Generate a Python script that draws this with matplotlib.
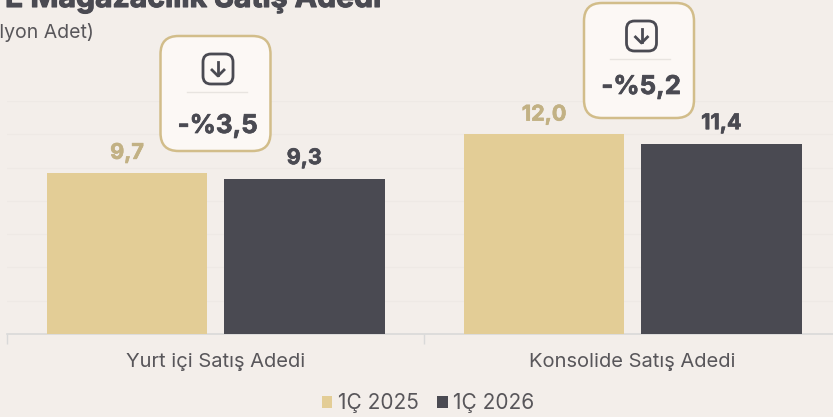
import numpy as np
import matplotlib
matplotlib.use('Agg')
import matplotlib.pyplot as plt
import matplotlib.patheffects as pe
from matplotlib.patches import FancyBboxPatch
from matplotlib.transforms import Affine2D

categories = ['Yurt içi Satış Adedi', 'Konsolide Satış Adedi']
series_names = ['1Ç 2025', '1Ç 2026']
values_2025 = [9.7, 12.0]
values_2026 = [9.3, 11.4]
labels_2025 = ['9,7', '12,0']
labels_2026 = ['9,3', '11,4']
changes = ['-%3,5', '-%5,2']

W, H = 833, 417
BG = '#F3EEEA'
GOLD = '#E3CD96'
GOLD_TXT = '#C2B184'
DARK = '#4A4A52'
GREY = '#58565A'

plt.rcParams['font.family'] = ['Inter', 'DejaVu Sans']


def heavy(color, lw=0.5):
    # Inter only comes out semi bold here, thicken it a bit
    return [pe.withStroke(linewidth=lw, foreground=color)]


fig = plt.figure(figsize=(W / 100, H / 100), dpi=100, facecolor=BG)
# axes runs past the right edge, same as the source crop
ax = fig.add_axes([7.2 / W, 1 - 334 / H, 834 / W, 233 / H], facecolor=BG)

x = np.arange(len(categories))
bar_w = 0.385
off = 0.2125
b1 = ax.bar(x - off, values_2025, bar_w, color=GOLD, label=series_names[0], zorder=3)
b2 = ax.bar(x + off, values_2026, bar_w, color=DARK, label=series_names[1], zorder=3)

ax.set_xlim(-0.5, 1.5)
ax.set_ylim(0, 14)
ax.set_yticks(np.arange(2, 15, 2))
ax.tick_params(axis='y', length=0, labelleft=False)
ax.grid(axis='y', color='#EEE9E5', lw=1, zorder=0)

ax.set_xticks([-0.5, 0.5, 1.5])
ax.set_xticklabels([])
ax.tick_params(axis='x', length=7, width=1, color='#D9D9D9')
ax.set_xticks(x, minor=True)
ax.set_xticklabels(categories, minor=True, fontsize=14.5, color=GREY)
ax.tick_params(axis='x', which='minor', length=0, pad=14)
for s in ['top', 'left', 'right']:
    ax.spines[s].set_visible(False)
ax.spines['bottom'].set_color('#D9D9D9')
ax.spines['bottom'].set_linewidth(1.2)

for t in ax.bar_label(b1, labels_2025, padding=7, fontsize=15.5, fontweight='bold', color=GOLD_TXT):
    t.set_path_effects(heavy(GOLD_TXT))
for t in ax.bar_label(b2, labels_2026, padding=8, fontsize=15.5, fontweight='bold', color=DARK):
    t.set_path_effects(heavy(DARK))

leg = fig.legend(handles=[b1, b2], loc='center', bbox_to_anchor=(428 / W, 1 - 403 / H),
                 ncol=2, frameon=False, fontsize=15, labelcolor=GREY,
                 handlelength=0.52, handleheight=0.52, handletextpad=0.25, columnspacing=0.9)

# pixel space overlay for callouts, y going down
px = Affine2D().scale(1, -1).translate(0, H)


def callout(x0, y0, text, base):
    box = FancyBboxPatch((x0 + 18, y0 + 18), 110 - 36, 115 - 36, boxstyle='round,pad=18,rounding_size=18',
                         fc='#FCF8F5', ec='#D2BD8A', lw=1.8, transform=px, zorder=6)
    fig.add_artist(box)
    cx = x0 + 57.5
    cy = y0 + 33
    icon = FancyBboxPatch((cx - 9, cy - 9), 18, 18, boxstyle='round,pad=6,rounding_size=8',
                          fc='none', ec=DARK, lw=2, transform=px, zorder=7)
    fig.add_artist(icon)
    fig.add_artist(plt.Line2D([cx, cx], [cy - 7, cy + 6], color=DARK, lw=2, transform=px, zorder=7))
    fig.add_artist(plt.Line2D([cx - 6, cx, cx + 6], [cy + 1, cy + 7, cy + 1], color=DARK, lw=2, transform=px, zorder=7))
    fig.add_artist(plt.Line2D([x0 + 26, x0 + 86], [y0 + 56, y0 + 56], color='#E8E4E0', lw=1, transform=px, zorder=7))
    fig.text((x0 + 57) / W, 1 - base / H, text, ha='center', va='baseline', fontsize=18.6,
             fontweight='bold', color=DARK, zorder=7, path_effects=heavy(DARK))


callout(160.5, 36, changes[0], 133)
callout(584, 3, changes[1], 94)

# title and unit are both cut off by the crop
fig.text(5 / W, 1 - 7 / H, 'E Mağazacılık Satış Adedi', ha='left', va='baseline', fontsize=21.7,
         fontweight='bold', color=DARK, path_effects=heavy(DARK, 0.8))
fig.text(94 / W, 1 - 38 / H, '(Milyon Adet)', ha='right', va='baseline', fontsize=14, color=GREY)

fig.savefig('out.png', dpi=100, facecolor=BG)
